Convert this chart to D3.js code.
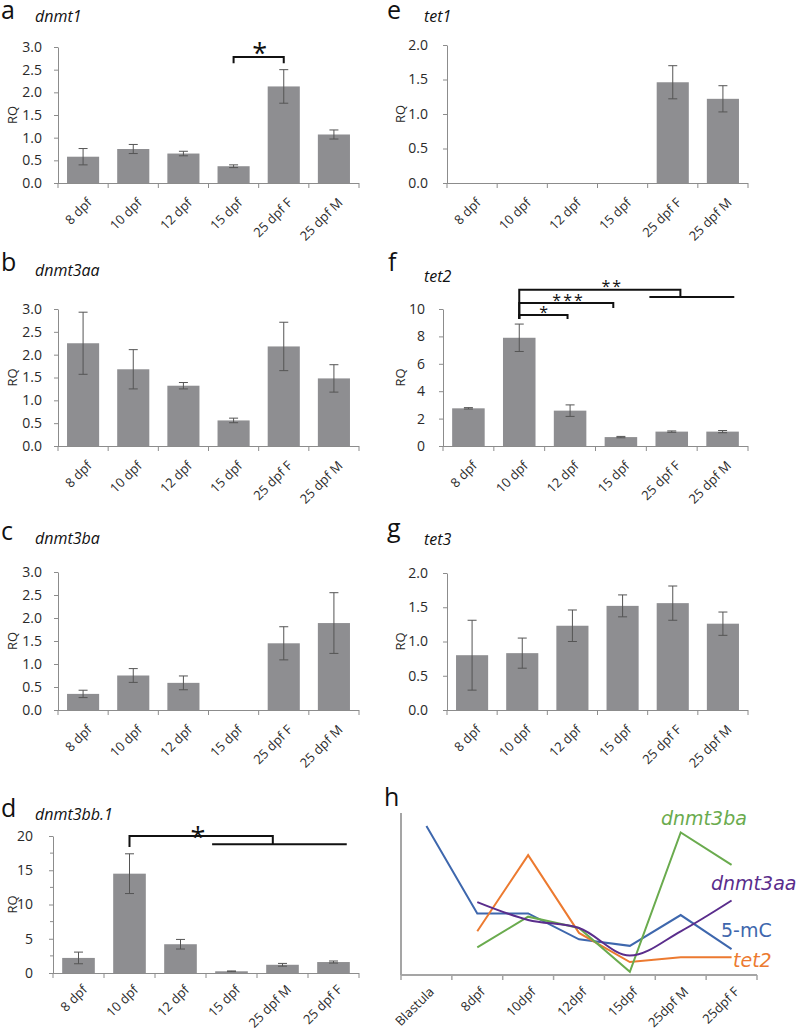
<!DOCTYPE html>
<html><head><meta charset="utf-8">
<script src="https://cdn.jsdelivr.net/npm/d3@7"></script>
<style>
html,body{margin:0;padding:0;background:#fff;}
svg{display:block;}
</style>
</head><body>
<svg id="chart" width="800" height="1031"></svg>
<script>
// ---------- DATA ----------
const cats  = ["8 dpf","10 dpf","12 dpf","15 dpf","25 dpf F","25 dpf M"];
const catsD = ["8 dpf","10 dpf","12 dpf","15 dpf","25 dpf M","25 dpf F"];
const catsH = ["Blastula","8dpf","10dpf","12dpf","15dpf","25dpf M","25dpf F"];

const dnmt1      = [0.58, 0.75, 0.65, 0.37, 2.13, 1.07];
const dnmt1Err   = [0.18, 0.10, 0.05, 0.03, 0.37, 0.10];
const dnmt3aa    = [2.25, 1.68, 1.32, 0.56, 2.18, 1.48];
const dnmt3aaErr = [0.68, 0.43, 0.07, 0.05, 0.53, 0.30];
const dnmt3ba    = [0.35, 0.75, 0.59, 0, 1.45, 1.89];
const dnmt3baErr = [0.08, 0.15, 0.15, 0, 0.36, 0.66];
const dnmt3bb1   = [2.2, 14.5, 4.2, 0.25, 1.2, 1.6];
const dnmt3bb1Err= [0.85, 2.9, 0.7, 0.05, 0.2, 0.15];
const tet1       = [0, 0, 0, 0, 1.46, 1.22];
const tet1Err    = [0, 0, 0, 0, 0.24, 0.19];
const tet2       = [2.75, 7.9, 2.58, 0.65, 1.05, 1.05];
const tet2Err    = [0.05, 1.0, 0.42, 0.05, 0.05, 0.08];
const tet3       = [0.80, 0.83, 1.23, 1.52, 1.56, 1.26];
const tet3Err    = [0.51, 0.22, 0.23, 0.16, 0.25, 0.17];

// panel h (relative levels, arbitrary units)
const h5mC      = [92, 38, 38, 22, 18, 37, 16];
const hTet2     = [null, 27, 74, 26, 8, 11, 11];
const hDnmt3ba  = [null, 17, 36, 29, 2, 88, 68];
const hDnmt3aa  = [null, 45, 34, 29, 12, 27, 46];

// significance brackets (category-boundary units on x, data units on y)
const sigA = [{a:3.5, b:4.5, y:2.78, la:2.64, lb:2.64, star:"*", sx:4.02, sy:2.97}];
const sigF = [
  {a:1.5, b:2.45, y:9.56, la:9.27, lb:9.27, star:"*",   sx:2.0,  sy:9.95},
  {a:1.5, b:3.35, y:10.44, la:9.27, lb:10.07, star:"***", sx:2.47, sy:10.85},
  {a:1.5, b:4.67, y:11.4, la:9.27, lb:10.88, star:"**", sx:3.33, sy:11.85, c:4.06, d:5.73}
];
const sigD = [{a:1.5, b:4.31, y:20.0, la:18.4, lb:18.8, star:"*", sx:2.84, sy:20.5, c:3.12, d:5.76}];

// ---------- DRAW ----------
const svg = d3.select("#chart");
const FONT = "'Open Sans', 'Noto Sans', sans-serif";
const AX = "#8c8c8c", TXT = "#2a2a2a", BAR = "#8e8e91", ERR = "#555";

function panelTitle(letter, lx, ly, gene, gx, gy){
  svg.append("text").attr("x",lx).attr("y",ly).text(letter)
    .attr("font-family",FONT).attr("font-size",25).attr("fill","#111");
  svg.append("text").attr("x",gx).attr("y",gy).text(gene)
    .attr("font-family",FONT).attr("font-size",16).attr("font-style","italic").attr("fill","#111");
}

function barPanel(cfg){
  const n = cfg.cats.length;
  const x = d3.scaleBand().domain(cfg.cats).range([cfg.x0,cfg.x1]).paddingInner(0.36).paddingOuter(0.18);
  const u = d3.scaleLinear().domain([0,n]).range([cfg.x0,cfg.x1]);
  const y = d3.scaleLinear().domain([0,cfg.ymax]).range([cfg.bottom,cfg.top]);
  const g = svg.append("g");

  // y axis
  const ya = g.append("g").attr("transform",`translate(${cfg.x0},0)`)
    .call(d3.axisLeft(y).tickValues(d3.range(0,cfg.ymax+1e-9,cfg.step))
      .tickSize(4).tickSizeOuter(0).tickPadding(cfg.pad).tickFormat(d3.format(cfg.fmt)));
  ya.select(".domain").attr("stroke",AX);
  ya.selectAll(".tick line").attr("stroke",AX);
  ya.selectAll(".tick text").attr("font-family",FONT).attr("font-size",14).attr("fill",TXT);
  if(cfg.minor){
    g.selectAll(".minor").data(cfg.minor).join("line")
      .attr("x1",cfg.x0-3).attr("x2",cfg.x0).attr("y1",d=>y(d)).attr("y2",d=>y(d))
      .attr("stroke",AX);
  }
  // x axis
  g.append("line").attr("x1",cfg.x0).attr("x2",cfg.x1).attr("y1",cfg.bottom+0.5).attr("y2",cfg.bottom+0.5).attr("stroke",AX);
  g.selectAll(".xt").data(d3.range(n+1)).join("line")
    .attr("x1",d=>u(d)).attr("x2",d=>u(d)).attr("y1",cfg.bottom).attr("y2",cfg.bottom+5).attr("stroke",AX);

  // bars
  const data = cfg.cats.map((c,i)=>({c, v:cfg.vals[i], e:cfg.err[i]}));
  g.selectAll(".bar").data(data.filter(d=>d.v>0)).join("rect")
    .attr("x",d=>x(d.c)).attr("width",x.bandwidth())
    .attr("y",d=>y(d.v)).attr("height",d=>cfg.bottom-y(d.v)).attr("fill",BAR);
  // error bars
  const ed = data.filter(d=>d.e>0);
  const cx = d=>x(d.c)+x.bandwidth()/2;
  g.selectAll(".ev").data(ed).join("line")
    .attr("x1",cx).attr("x2",cx).attr("y1",d=>y(d.v-d.e)).attr("y2",d=>y(d.v+d.e))
    .attr("stroke",ERR).attr("stroke-width",1);
  [1,-1].forEach(s=>{
    g.selectAll(".ec"+s).data(ed).join("line")
      .attr("x1",d=>cx(d)-4.5).attr("x2",d=>cx(d)+4.5)
      .attr("y1",d=>y(d.v+s*d.e)).attr("y2",d=>y(d.v+s*d.e))
      .attr("stroke",ERR).attr("stroke-width",1);
  });
  // x labels
  g.selectAll(".xl").data(cfg.cats).join("text")
    .attr("transform",d=>`translate(${x(d)+x.bandwidth()/2+3},${cfg.bottom+cfg.lab})rotate(-45)`)
    .attr("text-anchor","end").attr("dy","0.71em")
    .attr("font-family",FONT).attr("font-size",13).attr("fill",TXT).text(d=>d);
  // RQ label
  g.append("text").attr("transform",`translate(${cfg.rqx},${(cfg.top+cfg.bottom)/2}) rotate(-90)`)
    .attr("text-anchor","middle").attr("dy","0.35em")
    .attr("font-family",FONT).attr("font-size",13).attr("fill",TXT).text("RQ");

  // significance brackets
  (cfg.sig||[]).forEach(s=>{
    const p = d3.path();
    p.moveTo(u(s.a), y(s.la)); p.lineTo(u(s.a), y(s.y)); p.lineTo(u(s.b), y(s.y)); p.lineTo(u(s.b), y(s.lb));
    if(s.c!==undefined){ p.moveTo(u(s.c), y(s.lb)); p.lineTo(u(s.d), y(s.lb)); }
    g.append("path").attr("d",p.toString()).attr("fill","none").attr("stroke","#111").attr("stroke-width",2);
    g.append("text").attr("x",u(s.sx)).attr("y",y(s.sy)).attr("text-anchor","middle")
      .attr("dy", "0.55em")
      .attr("font-family",FONT).attr("font-size",cfg.starSize).attr("fill","#111")
      .attr("letter-spacing", cfg.starSize<20?2:0).text(s.star);
  });
}

// left column
panelTitle("a",1,19,"dnmt1",35,22);
barPanel({cats, vals:dnmt1, err:dnmt1Err, ymax:3, step:0.5, fmt:".1f", x0:58, x1:359, top:47, bottom:183, pad:12, rqx:12, lab:14, sig:sigA, starSize:27});
panelTitle("b",1,271,"dnmt3aa",35,276);
barPanel({cats, vals:dnmt3aa, err:dnmt3aaErr, ymax:3, step:0.5, fmt:".1f", x0:58, x1:359, top:309, bottom:446, pad:12, rqx:12, lab:14});
panelTitle("c",1,540,"dnmt3ba",35,544);
barPanel({cats, vals:dnmt3ba, err:dnmt3baErr, ymax:3, step:0.5, fmt:".1f", x0:58, x1:359, top:572, bottom:710, pad:12, rqx:12, lab:14});
panelTitle("d",1,817,"dnmt3bb.1",35,820);
barPanel({cats:catsD, vals:dnmt3bb1, err:dnmt3bb1Err, ymax:20, step:5, fmt:"d", x0:53, x1:359, top:836, bottom:973, pad:16, rqx:12, lab:11, minor:[2.5,7.5,12.5,17.5], sig:sigD, starSize:27});

// right column
panelTitle("e",387,19,"tet1",424,22);
barPanel({cats, vals:tet1, err:tet1Err, ymax:2, step:0.5, fmt:".1f", x0:447, x1:748, top:45, bottom:183, pad:15, rqx:400, lab:14});
panelTitle("f",388,271,"tet2",424,282);
barPanel({cats, vals:tet2, err:tet2Err, ymax:10, step:2, fmt:"d", x0:443, x1:748, top:309, bottom:446, pad:14, rqx:400, lab:14, sig:sigF, starSize:16});
panelTitle("g",387,537,"tet3",424,545);
barPanel({cats, vals:tet3, err:tet3Err, ymax:2, step:0.5, fmt:".1f", x0:447, x1:748, top:573, bottom:710, pad:15, rqx:400, lab:14});

// panel h
(function(){
  const x0=401, x1=757, top=813, bottom=975;
  svg.append("text").attr("x",384).attr("y",806).text("h")
    .attr("font-family",FONT).attr("font-size",25).attr("fill","#111");
  const x = d3.scalePoint().domain(catsH).range([x0,x1]).padding(0.5);
  const u = d3.scaleLinear().domain([0,catsH.length]).range([x0,x1]);
  const y = d3.scaleLinear().domain([0,100]).range([bottom,top]);
  const g = svg.append("g");
  g.append("line").attr("x1",x0).attr("x2",x0).attr("y1",top).attr("y2",bottom).attr("stroke","#a5a5a5").attr("stroke-width",2);
  g.append("line").attr("x1",x0).attr("x2",x1).attr("y1",bottom).attr("y2",bottom).attr("stroke","#a5a5a5").attr("stroke-width",2);
  g.selectAll(".xt").data(d3.range(catsH.length+1)).join("line")
    .attr("x1",d=>u(d)).attr("x2",d=>u(d)).attr("y1",bottom).attr("y2",bottom+5).attr("stroke","#a5a5a5").attr("stroke-width",1.5);
  g.selectAll(".xl").data(catsH).join("text")
    .attr("transform",d=>`translate(${x(d)+2},${bottom+11})rotate(-45)`)
    .attr("text-anchor","end").attr("dy","0.71em")
    .attr("font-family",FONT).attr("font-size",13).attr("fill",TXT).text(d=>d);

  const series = [
    {vals:h5mC, color:"#3e67ad", curve:d3.curveLinear},
    {vals:hTet2, color:"#ec7a30", curve:d3.curveLinear},
    {vals:hDnmt3ba, color:"#6aab4e", curve:d3.curveLinear},
    {vals:hDnmt3aa, color:"#5a2d8c", curve:d3.curveMonotoneX}
  ];
  series.forEach(s=>{
    const pts = catsH.map((c,i)=>[c,s.vals[i]]).filter(d=>d[1]!==null);
    const line = d3.line().x(d=>x(d[0])).y(d=>y(d[1])).curve(s.curve);
    g.append("path").attr("d",line(pts)).attr("fill","none").attr("stroke",s.color).attr("stroke-width",2);
  });
  const lab = (t,xx,yy,c,it)=>g.append("text").attr("x",xx).attr("y",yy).text(t)
    .attr("font-family","'DejaVu Sans', Verdana, sans-serif").attr("font-size",19)
    .attr("font-style",it?"italic":"normal").attr("fill",c);
  lab("dnmt3ba",661,825,"#6aab4e",true);
  lab("dnmt3aa",711,890,"#5a2d8c",true);
  lab("5-mC",721,937,"#3e67ad",false);
  lab("tet2",733,967,"#ec7a30",true);
})();
</script>
</body></html>
